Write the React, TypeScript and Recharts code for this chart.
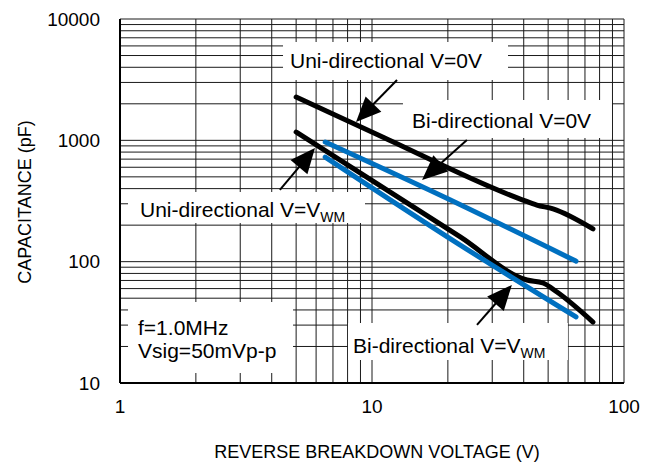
import React from 'react';
import { LineChart, Line, XAxis, YAxis, CartesianGrid, ReferenceArea, ReferenceLine } from 'recharts';

// ---- data ----
const xTicks = [1, 2, 3, 4, 5, 6, 7, 8, 9, 10, 20, 30, 40, 50, 60, 70, 80, 90, 100];
const xLabeled = [1, 10, 100];
const yTicks = [
  10, 20, 30, 40, 50, 60, 70, 80, 90,
  100, 200, 300, 400, 500, 600, 700, 800, 900,
  1000, 2000, 3000, 4000, 5000, 6000, 7000, 8000, 9000, 10000,
];
const yLabeled = [10, 100, 1000, 10000];

const uniV0 = [
  { v: 5.0, c: 2275 },
  { v: 10.8, c: 1086 },
  { v: 39.7, c: 322 },
  { v: 45.1, c: 293 },
  { v: 52.3, c: 272 },
  { v: 75.3, c: 186 },
];
const biV0 = [
  { v: 6.52, c: 968 },
  { v: 18.6, c: 354 },
  { v: 64.5, c: 101 },
];
const uniVwm = [
  { v: 5.0, c: 1171 },
  { v: 22.4, c: 160 },
  { v: 41.2, c: 70.6 },
  { v: 47.7, c: 66.7 },
  { v: 54.2, c: 56.2 },
  { v: 75.3, c: 31.8 },
];
const biVwm = [
  { v: 6.52, c: 728 },
  { v: 22.4, c: 137 },
  { v: 64.5, c: 35 },
];

const FONT = '"Liberation Sans", Arial, sans-serif';
const BLUE = '#0070C0';

type Box = {
  x1: number; x2: number; y1: number; y2: number;
  dx: number; lines: { dy: number; text: string; sub?: string }[];
};

const boxes: Box[] = [
  { x1: 4.435, x2: 34.65, y1: 3142, y2: 6462, dx: 7, lines: [{ dy: 26, text: 'Uni-directional V=0V' }] },
  { x1: 13.27, x2: 89.6, y1: 1045, y2: 2150, dx: 9, lines: [{ dy: 28, text: 'Bi-directional V=0V' }] },
  { x1: 1.076, x2: 9.38, y1: 208, y2: 375, dx: 12, lines: [{ dy: 25, text: 'Uni-directional V=V', sub: 'WM' }] },
  { x1: 1.076, x2: 4.86, y1: 12.1, y2: 46.5, dx: 10, lines: [{ dy: 33, text: 'f=1.0MHz' }, { dy: 56, text: 'Vsig=50mVp-p' }] },
  { x1: 8.03, x2: 59.9, y1: 15.5, y2: 31.2, dx: 5, lines: [{ dy: 30, text: 'Bi-directional V=V', sub: 'WM' }] },
];

const arrows = [
  { tail: { x: 12.57, y: 3142 }, tip: { x: 8.64, y: 1416 } },
  { tail: { x: 23.8, y: 1006 }, tip: { x: 15.8, y: 471 } },
  { tail: { x: 4.31, y: 390 }, tip: { x: 5.94, y: 865 } },
  { tail: { x: 26.1, y: 30.1 }, tip: { x: 35.9, y: 64.3 } },
];

const ArrowShape = (props: any) => {
  const { x1, y1, x2, y2 } = props;
  const dx = x2 - x1;
  const dy = y2 - y1;
  const len = Math.hypot(dx, dy) || 1;
  const ux = dx / len;
  const uy = dy / len;
  const hl = 25;
  const hw = 11;
  const bx = x2 - ux * hl;
  const by = y2 - uy * hl;
  const px = -uy;
  const py = ux;
  return (
    <g>
      <line x1={x1} y1={y1} x2={bx + ux * 2} y2={by + uy * 2} stroke="#000" strokeWidth={2} />
      <polygon
        points={`${x2},${y2} ${bx + px * hw},${by + py * hw} ${bx - px * hw},${by - py * hw}`}
        fill="#000"
      />
    </g>
  );
};

const makeBoxLabel = (b: Box) => (p: any) => {
  const vb = p.viewBox || {};
  const x = vb.x + b.dx;
  return (
    <g>
      {b.lines.map((ln, i) => (
        <text key={i} x={x} y={vb.y + ln.dy} fontFamily={FONT} fontSize={21} fill="#000">
          {ln.text}
          {ln.sub ? (
            <tspan fontSize={14} dy={5}>{ln.sub}</tspan>
          ) : null}
        </text>
      ))}
    </g>
  );
};

const XTitle = (p: any) => {
  const vb = p.viewBox || {};
  return (
    <text x={vb.x + vb.width / 2 + 5} y={450} textAnchor="middle" fontFamily={FONT} fontSize={18} fill="#000">
      REVERSE BREAKDOWN VOLTAGE (V)
    </text>
  );
};

const YTitle = (p: any) => {
  const vb = p.viewBox || {};
  const cx = 23;
  const cy = vb.y + vb.height / 2 + 1;
  return (
    <text
      x={cx}
      y={cy}
      transform={`rotate(-90, ${cx}, ${cy})`}
      textAnchor="middle"
      fontFamily={FONT}
      fontSize={18}
      fill="#000"
    >
      CAPACITANCE (pF)
    </text>
  );
};

export default function App() {
  return (
    <LineChart
      width={644}
      height={455}
      margin={{ top: 11, right: 28, bottom: 0, left: 0 }}
      style={{ fontFamily: FONT }}
    >
      <CartesianGrid stroke="#1a1a1a" strokeWidth={1} />
      <XAxis
        type="number"
        dataKey="v"
        scale="log"
        domain={[1, 100]}
        ticks={xTicks}
        interval={0}
        allowDataOverflow
        height={80}
        tickLine={false}
        tickSize={8}
        tickMargin={9}
        axisLine={{ stroke: '#000', strokeWidth: 2 }}
        tick={{ fontSize: 19, fill: '#000', fontFamily: FONT }}
        tickFormatter={(v: number) => (xLabeled.includes(v) ? String(v) : '')}
        label={XTitle}
      />
      <YAxis
        type="number"
        dataKey="c"
        scale="log"
        domain={[10, 10000]}
        ticks={yTicks}
        interval={0}
        allowDataOverflow
        width={112}
        tickLine={false}
        tickSize={8}
        tickMargin={12}
        axisLine={{ stroke: '#000', strokeWidth: 2 }}
        tick={{ fontSize: 19, fill: '#000', fontFamily: FONT }}
        tickFormatter={(v: number) => (yLabeled.includes(v) ? String(v) : '')}
        label={YTitle}
      />
      {boxes.map((b, i) => (
        <ReferenceArea
          key={`box-${i}`}
          x1={b.x1}
          x2={b.x2}
          y1={b.y1}
          y2={b.y2}
          fill="#fff"
          fillOpacity={1}
          stroke="none"
          ifOverflow="extendDomain"
          label={makeBoxLabel(b)}
        />
      ))}
      <Line type="monotone" data={uniV0} dataKey="c" stroke="#000" strokeWidth={5} dot={false} isAnimationActive={false} strokeLinecap="round" strokeLinejoin="round" />
      <Line type="monotone" data={uniVwm} dataKey="c" stroke="#000" strokeWidth={5} dot={false} isAnimationActive={false} strokeLinecap="round" strokeLinejoin="round" />
      <Line type="monotone" data={biV0} dataKey="c" stroke={BLUE} strokeWidth={5} dot={false} isAnimationActive={false} strokeLinecap="round" strokeLinejoin="round" />
      <Line type="monotone" data={biVwm} dataKey="c" stroke={BLUE} strokeWidth={5} dot={false} isAnimationActive={false} strokeLinecap="round" strokeLinejoin="round" />
      {arrows.map((a, i) => (
        <ReferenceLine key={`arr-${i}`} segment={[a.tail, a.tip]} shape={ArrowShape} ifOverflow="visible" />
      ))}
    </LineChart>
  );
}
